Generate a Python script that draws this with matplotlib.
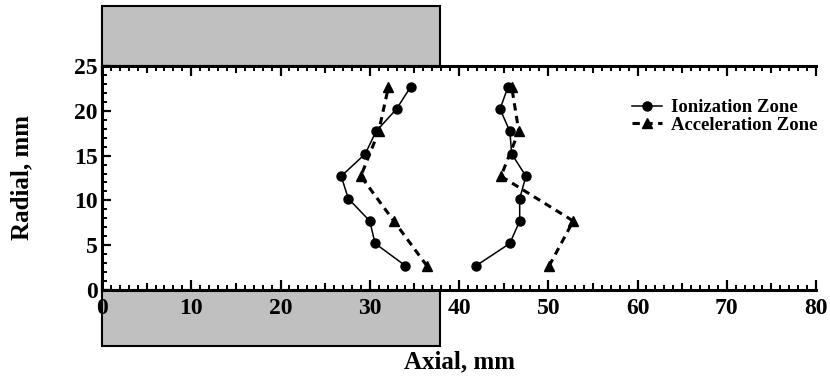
import matplotlib
matplotlib.use('Agg')
import matplotlib.pyplot as plt
from matplotlib.patches import Rectangle
from matplotlib.ticker import MultipleLocator, FixedLocator, NullFormatter

plt.rcParams['font.family'] = ['Liberation Serif', 'DejaVu Serif']
plt.rcParams['font.weight'] = 'bold'

# 电离区 (圆点, 实线)
radial_ion = [2.7, 5.2, 7.7, 10.2, 12.7, 15.2, 17.7, 20.2, 22.7]
ion_inner = [34.0, 30.6, 30.0, 27.6, 26.8, 29.5, 30.7, 33.0, 34.6]
ion_outer = [41.9, 45.7, 46.8, 46.8, 47.5, 45.9, 45.7, 44.6, 45.5]

# 加速区 (三角, 虚线)
radial_acc = [2.7, 7.7, 12.7, 17.7, 22.7]
acc_inner = [36.4, 32.7, 29.0, 31.0, 32.1]
acc_outer = [50.1, 52.8, 44.7, 46.7, 45.9]

# 灰色示意块 (axial 范围, radial 范围)
block_x = (0, 37.9)
block_top_y = (25, 31.7)
block_bot_y = (-6.3, 0)

fig = plt.figure(figsize=(8.3, 3.77), dpi=100)
ax = fig.add_axes([102 / 830, 1 - 290 / 377, 714 / 830, 224 / 377])

for y0, y1 in (block_top_y, block_bot_y):
    ax.add_patch(Rectangle((block_x[0], y0), block_x[1] - block_x[0], y1 - y0,
                           facecolor='#c0c0c0', edgecolor='black', linewidth=1.5,
                           clip_on=False, zorder=1))

ion_style = dict(color='black', linestyle='-', linewidth=1.1, marker='o', markersize=6.5)
acc_style = dict(color='black', linestyle=(0, (2.4, 1.8)), linewidth=2.2, marker='^', markersize=7)

ax.plot(ion_inner, radial_ion, label='Ionization Zone', **ion_style)
ax.plot(ion_outer, radial_ion, **ion_style)
ax.plot(acc_inner, radial_acc, label='Acceleration Zone', **acc_style)
ax.plot(acc_outer, radial_acc, **acc_style)

ax.set_xlim(0, 80)
ax.set_ylim(0, 25)

ax.spines['right'].set_visible(False)
for s in ('left', 'top', 'bottom'):
    ax.spines[s].set_linewidth(2.2)

ax.xaxis.set_major_locator(MultipleLocator(10))
ax.xaxis.set_minor_locator(MultipleLocator(1))
ax.yaxis.set_major_locator(MultipleLocator(5))
ax.yaxis.set_minor_locator(MultipleLocator(1))
ax.tick_params(axis='x', which='major', direction='in', top=True, length=7, width=1.6,
               labelsize=17, pad=6)
ax.tick_params(axis='x', which='minor', direction='in', top=True, length=3.5, width=1.4)
ax.tick_params(axis='y', which='major', direction='in', right=False, length=6.5, width=1.6,
               labelsize=17, pad=3)
ax.tick_params(axis='y', which='minor', direction='in', right=False, length=3.5, width=1.4)

# 5 mm 中间刻度
for side in ('bottom', 'top'):
    sec = ax.secondary_xaxis(side)
    sec.xaxis.set_major_locator(FixedLocator(list(range(5, 80, 10))))
    sec.xaxis.set_major_formatter(NullFormatter())
    sec.tick_params(which='major', direction='in', length=5.2, width=1.5)
    sec.tick_params(which='minor', length=0)
    sec.spines[side].set_visible(False)

ax.set_xlabel('Axial, mm', fontsize=18, fontweight='bold')
ax.set_ylabel('Radial, mm', fontsize=18, fontweight='bold')
ax.xaxis.set_label_coords(0.5, -0.32)
ax.yaxis.set_label_coords(-0.112, 0.5)
ax.xaxis.label.set_va('center')
ax.yaxis.label.set_va('center')

ax.legend(loc='upper left', bbox_to_anchor=(623 / 830, 1 - 90 / 377),
          bbox_transform=fig.transFigure, frameon=False,
          handlelength=1.6, handletextpad=0.45, labelspacing=0.0, borderpad=0,
          prop={'weight': 'bold', 'size': 13.5})

plt.savefig('out.png', dpi=100)
